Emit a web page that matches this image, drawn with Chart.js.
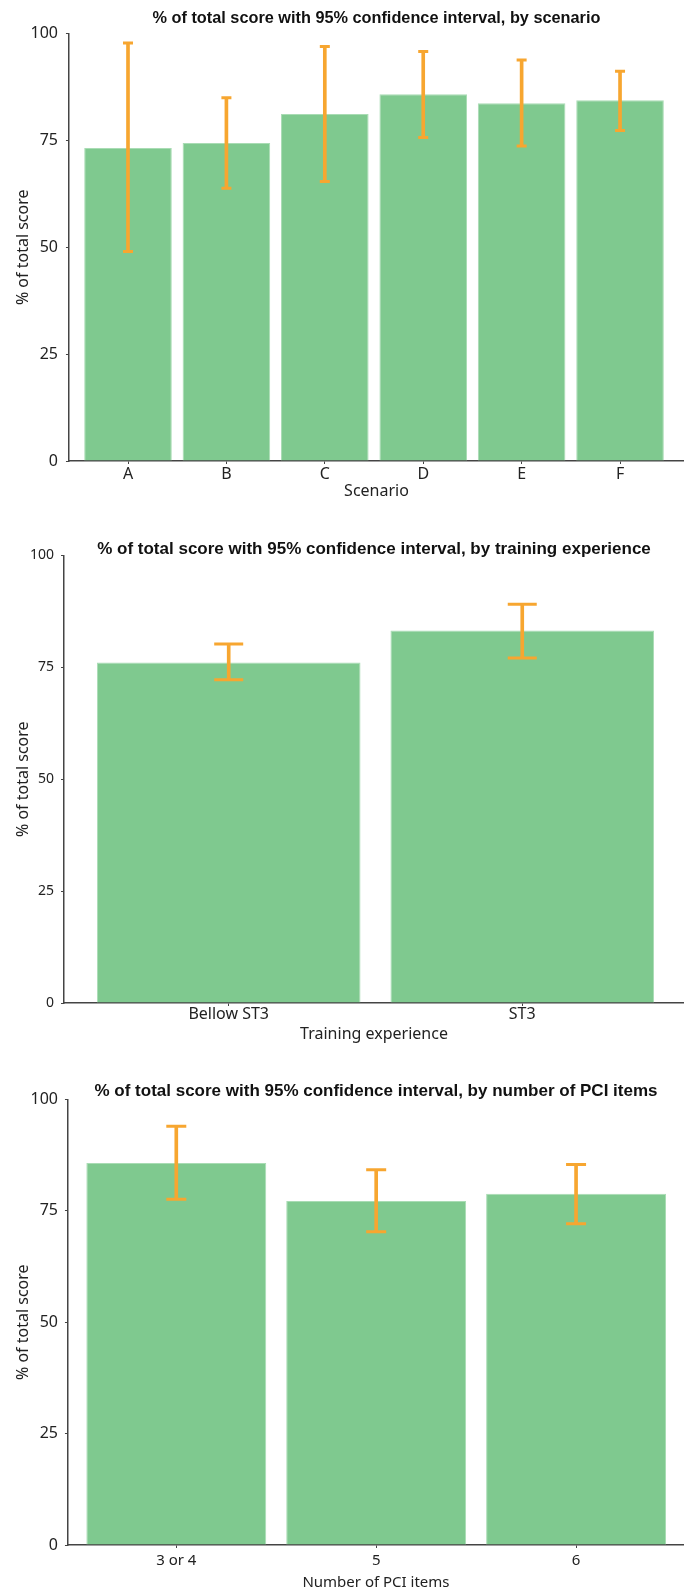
<!DOCTYPE html>
<html>
<head>
<meta charset="utf-8">
<script src="https://cdn.jsdelivr.net/npm/chart.js@4.4.1/dist/chart.umd.min.js"></script>
<style>
  body { margin: 0; background: #fff; }
  .caja { position: absolute; left: 0; width: 684px; }
</style>
</head>
<body>
<div class="caja" style="top:0px;height:503px"><canvas id="graficaEscenario"></canvas></div>
<div class="caja" style="top:528px;height:516px"><canvas id="graficaFormacion"></canvas></div>
<div class="caja" style="top:1060px;height:531px"><canvas id="graficaPci"></canvas></div>
<script>
// datos
const escenarios = ['A', 'B', 'C', 'D', 'E', 'F'];
const escenarioMedia = [73.2, 74.4, 81.2, 85.8, 83.7, 84.4];
const escenarioBajo = [49.0, 63.8, 65.4, 75.7, 73.7, 77.3];
const escenarioAlto = [97.8, 85.0, 97.0, 95.8, 93.8, 91.2];

const formacion = ['Bellow ST3', 'ST3'];
const formacionMedia = [76.1, 83.2];
const formacionBajo = [72.2, 77.1];
const formacionAlto = [80.2, 89.1];

const itemsPci = ['3 or 4', '5', '6'];
const pciMedia = [85.7, 77.2, 78.8];
const pciBajo = [77.6, 70.3, 72.1];
const pciAlto = [94.0, 84.2, 85.4];

const ticksY = [0, 25, 50, 75, 100];

const VERDE = '#7fc98f';
const NARANJA = '#f7a630';
const EJE = '#444';

function generarGraficaError(canvasId, titulo, labelX, etiquetas, medias, bajos, altos, aspecto) {
    const ctx = document.getElementById(canvasId).getContext('2d');
    const idx = etiquetas.map((_, i) => i);
    new Chart(ctx, {
        type: 'bar',
        data: {
            datasets: [
                {
                    // topes de la barra de error
                    type: 'scatter',
                    data: idx.flatMap(i => [{ x: i, y: bajos[i] }, { x: i, y: altos[i] }]),
                    pointStyle: 'line',
                    pointRadius: aspecto.cap,
                    pointHoverRadius: aspecto.cap,
                    pointBorderColor: NARANJA,
                    pointBackgroundColor: NARANJA,
                    pointBorderWidth: 3,
                    borderColor: NARANJA,
                    order: 1
                },
                {
                    // tramo vertical del intervalo
                    type: 'bar',
                    data: idx.map(i => ({ x: i, y: [bajos[i], altos[i]] })),
                    backgroundColor: NARANJA,
                    barThickness: 3,
                    grouped: false,
                    order: 2
                },
                {
                    type: 'bar',
                    data: idx.map(i => ({ x: i, y: medias[i] })),
                    backgroundColor: VERDE,
                    borderColor: '#a9dcb4',
                    borderWidth: 1,
                    barPercentage: aspecto.ancho,
                    categoryPercentage: 1,
                    grouped: false,
                    order: 3
                }
            ]
        },
        options: {
            responsive: true,
            maintainAspectRatio: false,
            animation: false,
            events: [],
            layout: { autoPadding: false, padding: { left: 0, right: 0, top: 0, bottom: aspecto.abajo } },
            plugins: {
                legend: { display: false },
                tooltip: { enabled: false },
                title: {
                    display: true,
                    text: titulo,
                    fullSize: false,
                    color: '#111',
                    font: { family: '"Liberation Sans", Arial, sans-serif', size: aspecto.tituloSize, weight: 'bold', lineHeight: 1.2 },
                    padding: aspecto.tituloPad
                }
            },
            scales: {
                x: {
                    type: 'linear',
                    offset: false,
                    min: aspecto.xMin,
                    max: aspecto.xMax,
                    afterBuildTicks: eje => { eje.ticks = idx.map(i => ({ value: i })); },
                    ticks: {
                        callback: v => etiquetas[v],
                        color: '#222',
                        padding: aspecto.xPad,
                        maxRotation: 0,
                        autoSkip: false,
                        font: { family: '"Noto Sans", sans-serif', size: aspecto.xSize, lineHeight: 1 }
                    },
                    grid: { offset: false, drawOnChartArea: false, drawTicks: true, tickLength: 3, color: EJE },
                    border: { display: true, color: EJE, width: 1.5 },
                    title: {
                        display: true,
                        text: labelX,
                        color: '#222',
                        font: { family: '"Noto Sans", sans-serif', size: aspecto.xTitleSize, lineHeight: 1 },
                        padding: aspecto.xTitlePad
                    }
                },
                y: {
                    min: 0,
                    max: 100,
                    afterBuildTicks: eje => { eje.ticks = ticksY.map(v => ({ value: v })); },
                    ticks: {
                        color: '#222',
                        padding: aspecto.yPad,
                        font: { family: '"Noto Sans", sans-serif', size: aspecto.ySize, lineHeight: 1 }
                    },
                    grid: { offset: false, drawOnChartArea: false, drawTicks: true, tickLength: 3, color: EJE },
                    border: { display: true, color: EJE, width: 1.5 },
                    title: {
                        display: true,
                        text: '% of total score',
                        color: '#222',
                        font: { family: '"Noto Sans", sans-serif', size: 16, lineHeight: 1 },
                        padding: aspecto.yTitlePad
                    }
                }
            }
        }
    });
}

generarGraficaError('graficaEscenario', '% of total score with 95% confidence interval, by scenario', 'Scenario',
    escenarios, escenarioMedia, escenarioBajo, escenarioAlto, {
        cap: 5, ancho: 0.89, xMin: -0.6, xMax: 5.65, abajo: 4,
        tituloSize: 16.3, tituloPad: { top: 8.5, bottom: 5.5 },
        xPad: 2, xSize: 16, xTitleSize: 16, xTitlePad: { top: -1, bottom: 0 },
        yPad: 8, ySize: 16, yTitlePad: { top: 15, bottom: -8.5 }
    });

generarGraficaError('graficaFormacion', '% of total score with 95% confidence interval, by training experience', 'Training experience',
    formacion, formacionMedia, formacionBajo, formacionAlto, {
        cap: 14.5, ancho: 0.898, xMin: -0.561, xMax: 1.551, abajo: 2,
        tituloSize: 17, tituloPad: { top: 11, bottom: -4 },
        xPad: 0, xSize: 16, xTitleSize: 16, xTitlePad: { top: 4, bottom: 0 },
        yPad: 7, ySize: 14, yTitlePad: { top: 15, bottom: -8 }
    });

generarGraficaError('graficaPci', '% of total score with 95% confidence interval, by number of PCI items', 'Number of PCI items',
    itemsPci, pciMedia, pciBajo, pciAlto, {
        cap: 10, ancho: 0.9, xMin: -0.542, xMax: 2.54, abajo: 1,
        tituloSize: 17, tituloPad: { top: 21, bottom: -2 },
        xPad: 5, xSize: 15, xTitleSize: 15, xTitlePad: { top: 2, bottom: 0 },
        yPad: 7, ySize: 16, yTitlePad: { top: 15, bottom: -7.5 }
    });
</script>
</body>
</html>
